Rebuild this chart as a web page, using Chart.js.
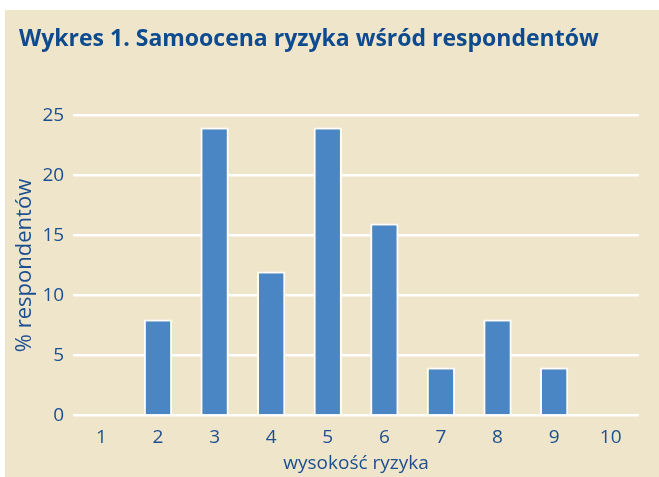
<!DOCTYPE html>
<html>
<head>
<meta charset="utf-8">
<script src="https://cdn.jsdelivr.net/npm/chart.js@4"></script>
<style>
    body { margin: 0; background: #ffffff; }
    #panel { position: absolute; left: 5px; top: 10px; width: 654px; height: 467px; background: #efe5cb; }
</style>
</head>
<body>
<div id="panel"><canvas id="riskChart" width="654" height="467"></canvas></div>
<script>
const categories = ['1', '2', '3', '4', '5', '6', '7', '8', '9', '10'];
const percentValues = [0, 8, 24, 12, 24, 16, 4, 8, 4, 0];
const yTicks = [0, 5, 10, 15, 20, 25];

const textColor = '#1c4f8f';
const axisFont = { family: 'Open Sans', size: 19 };

const ctx = document.getElementById('riskChart').getContext('2d');
new Chart(ctx, {
    type: 'bar',
    data: {
        labels: categories,
        datasets: [{
            label: '% respondentów',
            data: percentValues,
            backgroundColor: '#4a86c3',
            borderColor: '#ffffff',
            borderWidth: 2,
            barPercentage: 1,
            categoryPercentage: 0.5
        }]
    },
    options: {
        responsive: false,
        animation: false,
        layout: { padding: { left: 14, right: 20, top: 0, bottom: 2 } },
        scales: {
            x: {
                grid: { display: false },
                border: { display: false },
                ticks: { color: textColor, font: axisFont, padding: 3 },
                title: {
                    display: true,
                    text: 'wysokość ryzyka',
                    color: textColor,
                    font: axisFont,
                    padding: { top: 0, bottom: 0 }
                }
            },
            y: {
                min: yTicks[0],
                max: yTicks[yTicks.length - 1],
                afterBuildTicks: function(scale) {
                    scale.ticks = yTicks.map(v => ({ value: v }));
                },
                ticks: { color: textColor, font: axisFont, padding: 9 },
                grid: { color: '#ffffff', lineWidth: 2.5, drawTicks: false },
                border: { display: false },
                title: {
                    display: true,
                    text: '% respondentów',
                    color: textColor,
                    font: { family: 'Open Sans', size: 22 },
                    padding: { top: -7, bottom: -5 }
                }
            }
        },
        plugins: {
            legend: { display: false },
            tooltip: { enabled: false },
            title: {
                display: true,
                text: 'Wykres 1. Samoocena ryzyka wśród respondentów',
                align: 'start',
                color: '#0d4a8e',
                font: { family: 'Open Sans', size: 23, weight: 'bold' },
                padding: { top: 16, bottom: 62 }
            }
        }
    }
});
</script>
</body>
</html>
